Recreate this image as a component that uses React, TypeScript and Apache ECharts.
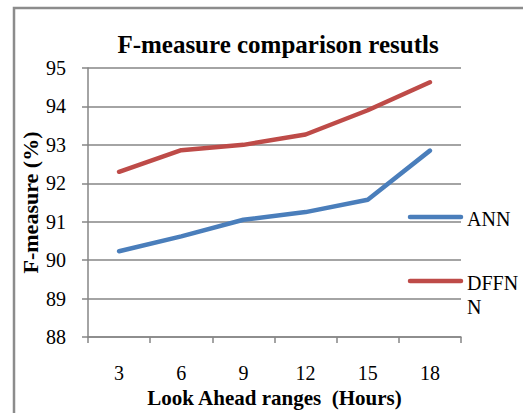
import React, { useEffect, useRef } from "react";
import * as echarts from "echarts";

const categories = ["3", "6", "9", "12", "15", "18"];
const annValues = [90.23, 90.62, 91.05, 91.25, 91.57, 92.85];
const dffnnValues = [92.3, 92.86, 93.0, 93.27, 93.9, 94.63];
const seriesNames = ["ANN", "DFFNN"];
const legendLabels = ["ANN", "DFFN\nN"];
const seriesColors = ["#4A7EBB", "#BE4B48"];

export default function App() {
  const ref = useRef<HTMLDivElement>(null);
  useEffect(() => {
    if (!ref.current) return;
    const chart = echarts.init(ref.current, null, { renderer: "svg" });
    const font = "Liberation Serif";
    const grey = "#868686";
    chart.setOption({
      animation: false,
      backgroundColor: "#ffffff",
      title: {
        text: "F-measure comparison resutls",
        left: 273,
        textAlign: "center",
        top: 27,
        textStyle: { fontFamily: font, fontSize: 25, fontWeight: "bold", color: "#000" },
      },
      grid: { left: 88, right: 62, top: 68, bottom: 73 },
      xAxis: {
        type: "category",
        data: categories,
        boundaryGap: true,
        name: "Look Ahead ranges  (Hours)",
        nameLocation: "middle",
        nameGap: 50,
        nameMoveOverlap: false,
        nameTextStyle: { fontFamily: font, fontSize: 21, fontWeight: "bold", color: "#000" },
        axisLine: { show: true, lineStyle: { color: grey, width: 1.5 } },
        axisTick: { show: true, inside: false, length: 6, interval: 0, lineStyle: { color: grey, width: 1.5 } },
        axisLabel: { margin: 26, fontFamily: font, fontSize: 20, color: "#000" },
        splitLine: { show: false },
      },
      yAxis: {
        type: "value",
        min: 88,
        max: 95,
        interval: 1,
        name: "F-measure (%)",
        nameLocation: "middle",
        nameGap: 47,
        nameMoveOverlap: false,
        nameRotate: 90,
        nameTextStyle: { fontFamily: font, fontSize: 22, fontWeight: "bold", color: "#000" },
        axisLine: { show: true, lineStyle: { color: grey, width: 1.5 } },
        axisTick: { show: true, inside: false, length: 6, lineStyle: { color: grey, width: 1.5 } },
        axisLabel: { margin: 22, fontFamily: font, fontSize: 20, color: "#000" },
        splitLine: { show: true, lineStyle: { color: grey, width: 1.5 } },
      },
      series: [
        {
          name: seriesNames[0],
          type: "line",
          data: annValues,
          symbol: "none",
          lineStyle: { color: seriesColors[0], width: 4.5, cap: "round", join: "round" },
          itemStyle: { color: seriesColors[0] },
        },
        {
          name: seriesNames[1],
          type: "line",
          data: dffnnValues,
          symbol: "none",
          lineStyle: { color: seriesColors[1], width: 4.5, cap: "round", join: "round" },
          itemStyle: { color: seriesColors[1] },
        },
      ],
      graphic: [
        {
          type: "rect",
          shape: { x: 14, y: 8, width: 700, height: 600 },
          style: { fill: "none", stroke: "#8c8c8c", lineWidth: 2.5 },
          silent: true,
        },
        {
          type: "line",
          shape: { x1: 410, y1: 217, x2: 461, y2: 217 },
          style: { stroke: seriesColors[0], lineWidth: 4.5, lineCap: "round" },
        },
        {
          type: "text",
          x: 467,
          y: 219,
          style: { text: legendLabels[0], fontFamily: font, fontSize: 20, fill: "#000", verticalAlign: "middle" },
        },
        {
          type: "line",
          shape: { x1: 410, y1: 281, x2: 461, y2: 281 },
          style: { stroke: seriesColors[1], lineWidth: 4.5, lineCap: "round" },
        },
        {
          type: "text",
          x: 467,
          y: 271,
          style: { text: legendLabels[1], fontFamily: font, fontSize: 20, lineHeight: 24, fill: "#000", verticalAlign: "top" },
        },
      ],
    });
    return () => chart.dispose();
  }, []);
  return (
    <div
      ref={ref}
      style={{ position: "absolute", left: 0, top: 0, width: 523, height: 413, background: "#fff" }}
    />
  );
}
